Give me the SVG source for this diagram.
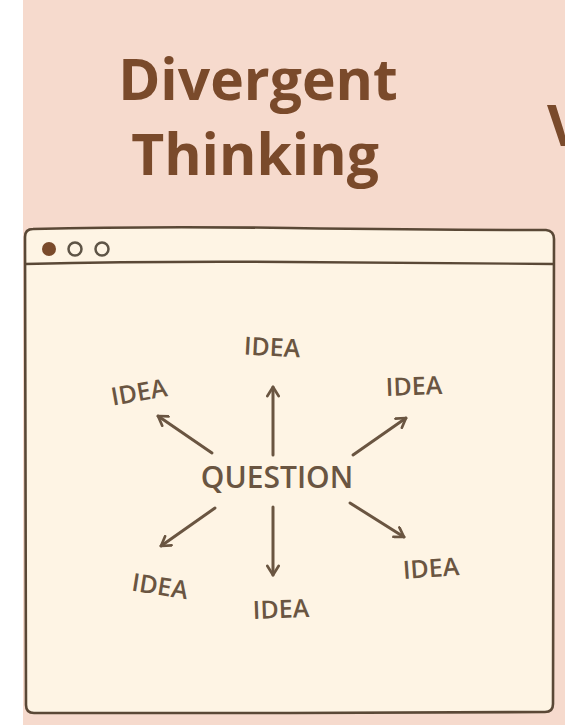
<svg xmlns="http://www.w3.org/2000/svg" width="565" height="725" viewBox="0 0 565 725">
<defs>
<style>
.title{font-family:"Open Sans","Noto Sans","Liberation Sans",sans-serif;font-weight:700;font-size:57px;fill:#7a4a2b;text-anchor:middle}
.lbl{font-family:"Open Sans","Noto Sans","Liberation Sans",sans-serif;font-weight:600;font-size:25px;fill:#6a5541;text-anchor:middle}
.q{font-size:30px}
.arrow{stroke:#6a5541;stroke-width:3;fill:none;stroke-linecap:round;marker-end:url(#head)}
.frame{fill:#fef4e4;stroke:#5a4836;stroke-width:2.6}
</style>
<marker id="head" viewBox="0 0 12 12" refX="10" refY="6" markerWidth="4.5" markerHeight="4.5" orient="auto" markerUnits="strokeWidth">
<path d="M2,1 L10,6 L2,11" fill="none" stroke="#6a5541" stroke-width="2.4" stroke-linecap="round" stroke-linejoin="round"/>
</marker>
</defs>
<rect x="0" y="0" width="565" height="725" fill="#ffffff"/>
<rect x="23" y="0" width="542" height="725" fill="#f6dacd"/>
<g id="title">
<text class="title" x="258" y="100">Divergent</text>
<text class="title" x="255" y="175">Thinking</text>
<text class="title" x="547" y="146" style="text-anchor:start">V</text>
</g>
<g id="window">
<path class="frame" d="M33,229 Q150,226 290,228 T546,230 Q554,231 554,239 L553,704 Q553,712 545,712 L290,713 L34,713 Q26,713 26,705 L25,237 Q25,229 33,229 Z"/>
<path d="M25,264 Q150,261 290,262 T554,264" fill="none" stroke="#5a4836" stroke-width="2.4"/>
<circle cx="49" cy="249" r="7" fill="#7a4a2b"/>
<circle cx="75" cy="249" r="6.5" fill="none" stroke="#5e5446" stroke-width="2.5"/>
<circle cx="102" cy="249" r="6.5" fill="none" stroke="#5e5446" stroke-width="2.5"/>
</g>
<g id="connectors">
<path class="arrow" d="M273,455 L273,387"/>
<path class="arrow" d="M212,453 L158,416"/>
<path class="arrow" d="M353,455 L406,418"/>
<path class="arrow" d="M215,508 L161,546"/>
<path class="arrow" d="M273,507 L273,575"/>
<path class="arrow" d="M350,503 L404,537"/>
</g>
<g id="question"><text class="lbl q" x="277" y="488">QUESTION</text></g>
<g id="idea-top"><text class="lbl" x="272" y="356" transform="rotate(3 272 348)">IDEA</text></g>
<g id="idea-upper-left"><text class="lbl" x="139" y="401" transform="rotate(-10 139 392)">IDEA</text></g>
<g id="idea-upper-right"><text class="lbl" x="414" y="395" transform="rotate(-2 414 386)">IDEA</text></g>
<g id="idea-lower-left"><text class="lbl" x="160" y="595" transform="rotate(9 160 586)">IDEA</text></g>
<g id="idea-bottom"><text class="lbl" x="281" y="618" transform="rotate(-2 281 610)">IDEA</text></g>
<g id="idea-lower-right"><text class="lbl" x="431" y="577" transform="rotate(-4 431 568)">IDEA</text></g>
</svg>
